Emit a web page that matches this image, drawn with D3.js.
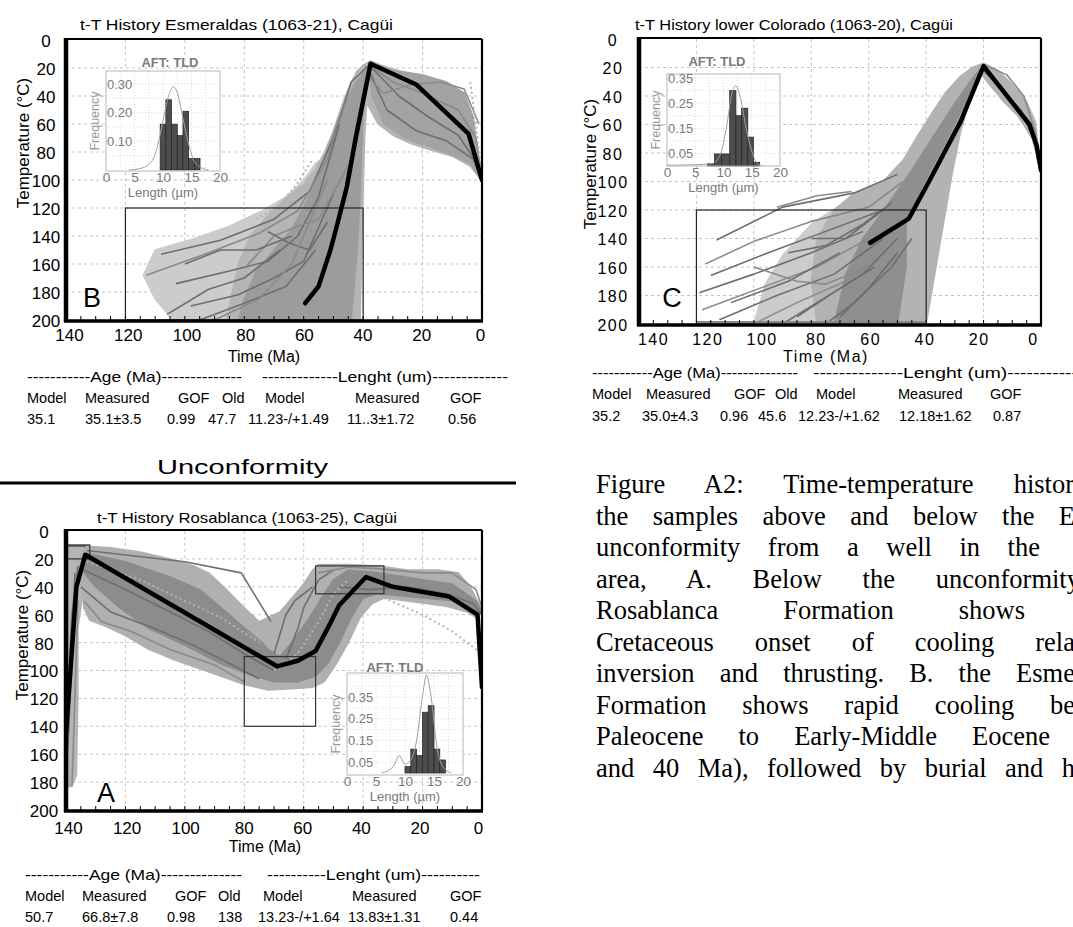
<!DOCTYPE html>
<html><head><meta charset="utf-8">
<script src="https://cdn.jsdelivr.net/npm/d3@7"></script>
<style>body{margin:0;background:#fff}svg{display:block}</style>
</head><body>
<svg id="fig" width="1073" height="927"></svg>
<script>
// ================= DATA =================
const timeTicks = [140,120,100,80,60,40,20,0];
const tempTicks = [0,20,40,60,80,100,120,140,160,180,200];
const histLenTicks = [0,5,10,15,20];

// ---- Panel B : Esmeraldas (1063-21) ----
const titleB = "t-T History Esmeraldas (1063-21), Cagüi";
const bestB = [[59.5,188],[55,176],[51,150],[48.5,130],[45.5,105],[42.5,70],[37.5,17],[22,32],[4.5,67],[0,100]];
const outerB = [[110,150],[97,142],[85,133],[74,122],[66,112],[60,100],[56,88],[50,80],[45,120],[44,200],[104,200],[110,185],[114,168]];
const envB = [[41,200],[40.5,150],[40,110],[39.5,70],[38.8,45],[35,60],[30,68],[24,74],[18,78],[10,83],[4,90],[0,101],[1.5,80],[3,55],[6,38],[12,30],[20,25],[28,22],[34,18],[37.5,15],[40,18],[42,22],[44,30],[46,40],[48,52],[50,65],[53,80],[56,92],[60,103],[66,113],[72,125],[78,140],[82,160],[84,180],[86,200]];
const coreB = [[44,200],[42,150],[41,110],[40.5,80],[40,50],[39,30],[38,20],[40,24],[43,32],[46,45],[49,60],[52,78],[55,95],[59,115],[64,135],[70,150],[76,165],[80,185],[82,200]];
const rightB = [[38,16],[30,22],[20,25],[12,30],[6,38],[3,55],[1.5,80],[0,100],[4,88],[10,82],[18,76],[26,70],[33,60],[37,40]];
const pathsB = [
  [[108,153],[88,143],[70,128],[58,108],[50,70],[44,30],[38,18]],
  [[113,168],[92,152],[75,138],[62,122],[52,85],[46,45]],
  [[103,174],[85,165],[72,158],[62,140],[55,112],[48,60]],
  [[98,190],[82,182],[70,170],[60,158],[50,110]],
  [[79,161],[70,140],[62,133],[55,128],[45,90]],
  [[95,200],[80,188],[66,176],[56,150]],
  [[72,137],[65,145],[58,150],[52,130]],
  [[90,200],[75,185],[64,160],[58,130],[52,100]],
  [[106,196],[92,178],[80,170],[68,150]],
  [[100,160],[88,150],[76,150],[64,140]],
  [[38,18],[30,30],[20,38],[8,50],[2,70],[0,100]],
  [[37,20],[28,40],[18,55],[8,68],[1,90]],
  [[38,22],[32,50],[22,65],[12,72],[3,85],[0,100]],
  [[39,25],[33,38],[24,32],[14,30],[6,35],[1,60]]
];
const dotsB = [[[76,128],[68,118],[62,102],[57,85]],[[4,30],[2,60],[0,100]]];
const boxesB = [[120,40,120,200]];
const binsB = [9.5,10.5,11.5,12.5,13.5,14.5,15.5,16.5];
const freqB = [0.16,0.245,0.16,0.12,0.205,0.04,0.04];
const curveB = [[4,0],[6,0.005],[8,0.03],[9,0.08],[10,0.17],[11,0.26],[11.8,0.29],[12.5,0.27],[13.5,0.18],[14.5,0.09],[15.5,0.03],[17,0.005],[18,0]];
const histYTicksB = [0.10,0.20,0.30];
const tableB = [
  ["-----------Age  (Ma)--------------","-------------Lenght (um)-------------"],
  ["Model","Measured","GOF","Old","Model","Measured","GOF"],
  ["35.1","35.1±3.5","0.99","47.7","11.23-/+1.49","11..3±1.72","0.56"]
];

// ---- Panel C : lower Colorado (1063-20) ----
const titleC = "t-T History lower Colorado (1063-20), Cagüi";
const bestC = [[59.5,143],[46,126],[39,100],[28,58],[20,19],[4,60],[1.5,75],[0,92]];
const outerC = [[100,200],[96,172],[90,152],[80,130],[68,114],[56,104],[50,200]];
const envC = [[40,200],[37,165],[34,130],[31,95],[28,65],[25,45],[22,30],[21,24],[18,32],[13,44],[8,54],[3,70],[0,95],[1,75],[2,58],[5,44],[10,32],[15,22],[20,17],[24,20],[28,26],[33,37],[38,52],[43,68],[48,85],[55,100],[65,108],[72,120],[78,140],[80,170],[78,200]];
const coreC = [[72,200],[68,165],[62,140],[54,118],[46,95],[38,70],[30,45],[24,28],[20,18],[22,25],[30,60],[41,102],[47,128],[47,160],[50,200]];
const pathsC = [
  [[113,141],[90,118],[65,108],[50,95]],
  [[117,158],[100,142],[80,128],[60,118],[48,100]],
  [[115,166],[95,150],[75,135],[55,120]],
  [[119,178],[100,165],[80,150],[62,135]],
  [[118,190],[98,175],[78,160],[60,140]],
  [[112,197],[92,180],[72,165],[55,140]],
  [[108,185],[88,170],[70,150]],
  [[100,200],[85,185],[68,170],[55,150]],
  [[90,200],[78,185],[62,165],[50,140]],
  [[85,195],[70,175],[58,160]],
  [[100,160],[85,170],[75,172],[60,160]],
  [[88,150],[75,145],[62,130],[52,115]],
  [[80,140],[68,140],[55,120]],
  [[92,118],[78,110],[66,107]],
  [[75,200],[65,185],[52,160],[45,140]],
  [[70,195],[60,175],[50,150]],
  [[20,18],[12,25],[6,40],[2,65],[0,90]],
  [[21,20],[14,35],[7,50],[2,72]]
];
const dotsC = [[[2,70],[0,95]]];
const boxesC = [[120,40,120,200]];
const binsC = [7.2,8.4,9.7,11.1,12.2,13.2,14.3,15.3,16.4];
const freqC = [0.01,0.048,0.048,0.30,0.20,0.23,0.115,0.015];
const curveC = [[0,0.003],[5,0.005],[8,0.01],[9.5,0.05],[10.5,0.15],[11.5,0.29],[12.2,0.32],[13,0.27],[14,0.15],[15,0.06],[16,0.01],[17,0]];
const histYTicksC = [0.05,0.15,0.25,0.35];
const tableC = [
  ["-----------Age  (Ma)--------------","--------------Lenght (um)-----------"],
  ["Model","Measured","GOF","Old","Model","Measured","GOF"],
  ["35.2","35.0±4.3","0.96","45.6","12.23-/+1.62","12.18±1.62","0.87"]
];

// ---- Panel A : Rosablanca (1063-25) ----
const titleA = "t-T History Rosablanca (1063-25), Cagüi";
const bestA = [[140,145],[138.5,100],[136.5,40],[133.5,17],[69,97],[62,93],[56,86],[52,70],[48,53],[39,33],[30,40],[11,47],[1.5,60],[0,112]];
const envA = [[133,11],[125,12],[115,15],[105,20],[97,25],[92,30],[86,42],[80,55],[75,65],[72,62],[68,58],[64,48],[60,38],[57,28],[55,24],[45,24],[35,25],[25,28],[15,28],[8,30],[4,40],[1,52],[0,58],[2,62],[5,58],[12,54],[22,51],[33,48],[37,52],[41,62],[45,80],[49,95],[53,108],[57,112],[64,113],[72,114],[80,110],[88,104],[96,98],[104,92],[112,85],[120,75],[127,68],[132,64],[134,55],[135,35],[136,20]];
const leftA = [[141,12],[134,12],[134,40],[136,70],[136,120],[136.5,175],[138,183],[141,184]];
const coreA = [[133,16],[120,22],[105,33],[95,42],[85,60],[78,75],[72,85],[68,90],[64,80],[58,62],[54,48],[50,35],[45,28],[35,30],[20,35],[10,38],[2,50],[0,58],[3,58],[10,50],[25,47],[35,45],[40,48],[44,62],[48,80],[52,95],[56,104],[62,108],[70,108],[78,103],[88,95],[100,82],[112,70],[122,55],[130,40],[134,30]];
const pathsA = [
  [[133,14],[100,22],[81,30],[71,65]],
  [[132,18],[112,30],[96,45],[84,62],[74,80],[68,95]],
  [[134,28],[120,42],[105,58],[92,72],[80,88],[70,100]],
  [[135,40],[125,58],[110,70],[97,82],[85,95],[75,106]],
  [[134,50],[128,65],[118,72],[105,85],[90,96],[80,108]],
  [[70,88],[66,60],[63,50],[57,40]],
  [[66,92],[62,70],[60,55],[55,35],[50,28]],
  [[55,30],[45,26],[35,27],[20,30],[10,30],[2,42],[0,55]],
  [[48,40],[38,42],[25,40],[12,45],[3,52],[0,60]],
  [[141,180],[140,150],[138,60],[136,25]],
  [[138,183],[137,120],[136,50]],
  [[140,175],[139,140],[137,30]]
];
const dotsA = [[[133,22],[115,35],[100,50],[88,62],[75,80]],[[70,100],[62,88],[55,65],[50,45],[45,35]],[[33,48],[20,60],[10,72],[0,88]]];
const boxesA = [[140,132,10,20],[80,56,90,140],[56,33,25,45]];
const binsA = [10,11,12,13,14,15,16,17];
const freqA = [0.03,0.11,0.08,0.28,0.31,0.11,0.06];
const curveA = [[6,0],[8,0.03],[9,0.08],[10,0.04],[11,0.06],[12,0.15],[13,0.35],[13.7,0.45],[14.5,0.35],[15.5,0.12],[16.5,0.03],[18,0]];
const histYTicksA = [0.05,0.15,0.25,0.35];
const tableA = [
  ["-----------Age  (Ma)--------------","----------Lenght (um)----------"],
  ["Model","Measured","GOF","Old","Model","Measured","GOF"],
  ["50.7","66.8±7.8","0.98","138","13.23-/+1.64","13.83±1.31","0.44"]
];

const unconformityLabel = "Unconformity";
const captionLines = [
  "Figure A2: Time-temperature histor",
  "the samples above and below the E",
  "unconformity from a well in the",
  "area, A. Below the unconformity",
  "Rosablanca Formation shows",
  "Cretaceous onset of cooling rela",
  "inversion and thrusting. B. the Esme",
  "Formation shows rapid cooling be",
  "Paleocene to Early-Middle Eocene",
  "and 40 Ma), followed by burial and h"
];

// ================= DRAWING =================
const svg = d3.select('#fig');
svg.append('rect').attr('width',1073).attr('height',927).attr('fill','#fff');
const SANS = "'Liberation Sans', Arial, sans-serif";

function drawPanel(p){
  const x = d3.scaleLinear().domain([140,0]).range([p.xl,p.xr]);
  const y = d3.scaleLinear().domain([0,200]).range([p.yt,p.yb]);
  const xLab = d3.scaleLinear().domain([140,0]).range(p.xLabRange || [p.xl,p.xr]);
  const g = svg.append('g');
  const cid = 'clip'+p.id;
  svg.append('defs').append('clipPath').attr('id',cid).append('rect')
    .attr('x',p.xl).attr('y',p.yt-1).attr('width',p.xr-p.xl).attr('height',p.yb-p.yt+1);
  const grid = g.append('g').attr('stroke','#c4c4c4').attr('stroke-width',1).attr('stroke-dasharray','3,3');
  timeTicks.slice(1,-1).forEach(t=>grid.append('line').attr('x1',x(t)).attr('x2',x(t)).attr('y1',p.yt).attr('y2',p.yb));
  tempTicks.slice(1,-1).forEach(t=>grid.append('line').attr('x1',p.xl).attr('x2',p.xr).attr('y1',y(t)).attr('y2',y(t)));
  const pl = d3.line().x(d=>x(d[0])).y(d=>y(d[1]));
  const body = g.append('g').attr('clip-path',`url(#${cid})`);
  p.boxes.forEach((b,i)=>{
    if(p.boxFill && p.boxFill[i]) body.append('rect').attr('x',x(b[0])).attr('y',y(b[2]))
      .attr('width',x(b[1])-x(b[0])).attr('height',y(b[3])-y(b[2])).attr('fill',p.boxFill[i]);
  });
  p.polys.forEach(pp=>body.append('path').attr('d',pl(pp.pts)+'Z').attr('fill',pp.fill).attr('stroke',pp.fill).attr('stroke-width',1.5).attr('stroke-linejoin','round'));
  p.paths.forEach((pt,i)=>body.append('path').attr('d',pl(pt)).attr('fill','none')
    .attr('stroke', i%3===1 ? '#8a8a8a' : '#6e6e6e').attr('stroke-width',1.6).attr('stroke-linejoin','round'));
  p.dots.forEach(pt=>body.append('path').attr('d',pl(pt)).attr('fill','none').attr('stroke','#b4b4b4').attr('stroke-width',2).attr('stroke-dasharray','2,3'));
  p.boxes.forEach((b,i)=>body.append('rect').attr('x',x(b[0])).attr('y',y(b[2]))
      .attr('width',x(b[1])-x(b[0])).attr('height',y(b[3])-y(b[2])).attr('fill','none')
      .attr('stroke', p.boxStroke||'#222').attr('stroke-width',1.2));
  if(p.boxBottom) body.append('line').attr('x1',x(120)).attr('x2',x(40)).attr('y1',y(199)).attr('y2',y(199)).attr('stroke','#888').attr('stroke-width',3);
  body.append('path').attr('d',pl(p.best)).attr('fill','none').attr('stroke','#000').attr('stroke-width',4.5).attr('stroke-linejoin','round').attr('stroke-linecap','round');
  const mt = g.append('g').attr('stroke','#000').attr('stroke-width',1);
  d3.range(0,141,5).forEach(t=>mt.append('line').attr('x1',x(t)).attr('x2',x(t)).attr('y1',p.yb).attr('y2',p.yb-4));
  g.append('line').attr('x1',p.xl).attr('x2',p.xr).attr('y1',p.yt-1).attr('y2',p.yt-1).attr('stroke','#000').attr('stroke-width',2.2);
  g.append('line').attr('x1',p.xr).attr('x2',p.xr).attr('y1',p.yt-1).attr('y2',p.yb+1).attr('stroke','#000').attr('stroke-width',2.2);
  g.append('line').attr('x1',p.xl).attr('x2',p.xl).attr('y1',p.yt-2).attr('y2',p.yb+2).attr('stroke','#000').attr('stroke-width',4.5);
  g.append('line').attr('x1',p.xl-2).attr('x2',p.xr+1).attr('y1',p.yb+1).attr('y2',p.yb+1).attr('stroke','#000').attr('stroke-width',3.5);
  const ax = g.append('g').attr('transform',`translate(0,${p.xLabY})`)
    .call(d3.axisBottom(xLab).tickValues(timeTicks).tickSize(0).tickPadding(0));
  ax.select('.domain').remove();
  ax.selectAll('text').attr('dy','0.35em').attr('font-family',SANS).attr('font-size',p.tickFs).attr('fill','#000')
    .attr('letter-spacing',p.ls||0);
  const ay = g.append('g').attr('transform',`translate(${p.yLabX},${p.yLabDy||0})`)
    .call(d3.axisLeft(y).tickValues(tempTicks).tickSize(0).tickPadding(0));
  ay.select('.domain').remove();
  ay.selectAll('text').attr('text-anchor','middle').attr('x',0).attr('dy','0.38em').attr('font-family',SANS)
    .attr('font-size',p.tickFs).attr('fill','#000').attr('letter-spacing',p.ls||0);
  g.append('text').attr('x',p.title[1]).attr('y',p.title[2]).text(p.title[0]).attr('font-family',SANS)
    .attr('font-size',15).attr('textLength',p.title[3]).attr('lengthAdjust','spacingAndGlyphs');
  g.append('text').attr('x',p.timeLab[0]).attr('y',p.timeLab[1]).attr('text-anchor','middle').text('Time (Ma)')
    .attr('font-family',SANS).attr('font-size',16).attr('letter-spacing',p.ls||0);
  g.append('text').attr('transform',`translate(${p.tempLab[0]},${p.tempLab[1]}) rotate(-90)`).attr('text-anchor','middle')
    .text('Temperature (°C)').attr('font-family',SANS).attr('font-size',17).attr('dy','0.35em');
  g.append('text').attr('x',p.letter[1]).attr('y',p.letter[2]).text(p.letter[0]).attr('font-family',SANS).attr('font-size',27).attr('text-anchor','middle');
  drawInset(p.inset);
  const t = p.table, tb = p.tableLayout;
  t[0].forEach((s,i)=>g.append('text').attr('x',tb.hx[i]).attr('y',tb.y[0]).text(s).attr('font-family',SANS).attr('font-size',14.5)
     .attr('textLength',tb.hw[i]).attr('lengthAdjust','spacingAndGlyphs'));
  [1,2].forEach(r=>t[r].forEach((s,i)=>g.append('text').attr('x',tb.cols[r-1][i]).attr('y',tb.y[r]).text(s)
     .attr('font-family',SANS).attr('font-size',14.5)));
}

function drawInset(s){
  const g = svg.append('g');
  const x = d3.scaleLinear().domain([0,20]).range([s.xl,s.xr]);
  const y = d3.scaleLinear().domain([0,s.ref]).range([s.y0,s.yref]);
  g.append('rect').attr('x',s.xl).attr('y',s.yt).attr('width',s.xr-s.xl).attr('height',s.yb-s.yt).attr('fill','#fff');
  const gg = g.append('g').attr('stroke','#d2d2d2').attr('stroke-width',0.8).attr('stroke-dasharray','1,2');
  d3.range(2.5,20,2.5).forEach(v=>gg.append('line').attr('x1',x(v)).attr('x2',x(v)).attr('y1',s.yt).attr('y2',s.yb));
  s.gridY.forEach(v=>{ if(y(v)>s.yt+1 && y(v)<s.yb-1) gg.append('line').attr('x1',s.xl).attr('x2',s.xr).attr('y1',y(v)).attr('y2',y(v)); });
  s.freq.forEach((f,i)=>g.append('rect').attr('x',x(s.bins[i])).attr('y',y(f)).attr('width',x(s.bins[i+1])-x(s.bins[i]))
    .attr('height',s.y0-y(f)).attr('fill','#4d4d4d').attr('stroke','#222').attr('stroke-width',0.7));
  const cid='iclip'+s.id;
  svg.append('defs').append('clipPath').attr('id',cid).append('rect').attr('x',s.xl).attr('y',s.yt).attr('width',s.xr-s.xl).attr('height',s.yb-s.yt);
  g.append('path').attr('clip-path',`url(#${cid})`).attr('d',d3.line().curve(d3.curveMonotoneX).x(d=>x(d[0])).y(d=>y(d[1]))(s.curve))
    .attr('fill','none').attr('stroke','#a0a0a0').attr('stroke-width',1);
  g.append('rect').attr('x',s.xl).attr('y',s.yt).attr('width',s.xr-s.xl).attr('height',s.yb-s.yt).attr('fill','none').attr('stroke','#b8b8b8').attr('stroke-width',1);
  const tc='#7a7a7a';
  s.yTicks.forEach(v=>g.append('text').attr('x',s.xl+1).attr('y',y(v)).attr('dy','0.35em').text(v.toFixed(2))
    .attr('font-family',SANS).attr('font-size',13).attr('fill',tc));
  const ax = g.append('g').attr('transform',`translate(0,${s.yb+7})`).call(d3.axisBottom(x).tickValues(histLenTicks).tickSize(0).tickPadding(0));
  ax.select('.domain').remove();
  ax.selectAll('text').attr('dy','0.3em').attr('font-family',SANS).attr('font-size',13.5).attr('fill',tc);
  g.append('text').attr('x',(s.xl+s.xr)/2).attr('y',s.yb+21).attr('dy','0.35em').attr('text-anchor','middle').text('Length (µm)')
    .attr('font-family',SANS).attr('font-size',13).attr('fill',tc);
  g.append('text').attr('transform',`translate(${s.xl-7},${(s.yt+s.yb)/2}) rotate(-90)`).attr('text-anchor','middle').text('Frequency')
    .attr('font-family',SANS).attr('font-size',12.5).attr('fill','#999');
  g.append('text').attr('x',s.tx).attr('y',s.ty).attr('text-anchor','middle').text('AFT: TLD')
    .attr('font-family',SANS).attr('font-size',13).attr('font-weight','bold').attr('fill',tc);
}

drawPanel({id:'B', xl:66, xr:482, yt:40, yb:320, xLabY:335, xLabRange:[69,480], yLabX:46, tickFs:17,
  title:[titleB,80,30,313], timeLab:[264,362], tempLab:[23,143], letter:['B',92,307],
  best:bestB, paths:pathsB, dots:dotsB, boxes:boxesB,
  polys:[{pts:outerB,fill:'#cccccc'},{pts:envB,fill:'#b5b5b5'},{pts:coreB,fill:'#9c9c9c'},{pts:rightB,fill:'#a3a3a3'}],
  inset:{id:'B',xl:106,xr:220,yt:71,yb:171,y0:170,ref:0.3,yref:84,bins:binsB,freq:freqB,curve:curveB,yTicks:histYTicksB,gridY:d3.range(0.05,0.35,0.05),tx:170,ty:67},
  table:tableB, tableLayout:{y:[382,403,424], hx:[27,262], hw:[215,246],
    cols:[[27,85,178,222,265,355,450],[27,85,167,208,248,347,448]]}
});
drawPanel({id:'C', xl:639, xr:1041, yt:39, yb:324, xLabY:339, xLabRange:[653,1033], yLabX:613, tickFs:16, ls:1.5,
  title:[titleC,635,30,318], timeLab:[826,362], tempLab:[590,164], letter:['C',672,307], boxBottom:true,
  best:bestC, paths:pathsC, dots:dotsC, boxes:boxesC,
  polys:[{pts:outerC,fill:'#cccccc'},{pts:envC,fill:'#b3b3b3'},{pts:coreC,fill:'#8f8f8f'}],
  inset:{id:'C',xl:667,xr:780,yt:74,yb:166,y0:166,ref:0.35,yref:78,bins:binsC,freq:freqC,curve:curveC,yTicks:histYTicksC,gridY:d3.range(0.05,0.4,0.05),tx:717,ty:66},
  table:tableC, tableLayout:{y:[378,399,421], hx:[592,813], hw:[206,265],
    cols:[[592,646,734,775,816,898,990],[592,642,720,758,798,899,993]]}
});
drawPanel({id:'A', xl:66, xr:482, yt:531, yb:810, xLabY:828, xLabRange:[68,478], yLabX:44, tickFs:17,
  title:[titleA,97,523,300], timeLab:[265,852], tempLab:[22,635], letter:['A',106,802],
  best:bestA, paths:pathsA, dots:dotsA, boxes:boxesA, boxFill:['#6a6a6a',null,'#7c7c7c'], boxStroke:'#333',
  polys:[{pts:leftA,fill:'#b5b5b5'},{pts:envA,fill:'#b0b0b0'},{pts:coreA,fill:'#8c8c8c'}],
  inset:{id:'A',xl:347,xr:463,yt:673,yb:775,y0:773,ref:0.35,yref:697,bins:binsA,freq:freqA,curve:curveA,yTicks:histYTicksA,gridY:d3.range(0.05,0.5,0.05),tx:395,ty:672},
  table:tableA, tableLayout:{y:[880,901,922], hx:[25,267], hw:[217,213],
    cols:[[25,82,175,218,263,352,450],[25,82,167,218,258,348,450]]}
});

svg.append('text').attr('x',157).attr('y',474).text(unconformityLabel).attr('font-family',SANS).attr('font-size',21)
  .attr('textLength',171).attr('lengthAdjust','spacingAndGlyphs');
svg.append('line').attr('x1',0).attr('x2',516).attr('y1',483).attr('y2',483).attr('stroke','#000').attr('stroke-width',3);

const capEnds = [1074,1075,1040,1080,1025,1075,1075,1075,1050,1075];
const capY = d3.range(10).map(i=>493+i*31.55);
captionLines.forEach((s,i)=>{
  const t = svg.append('text').attr('x',596).attr('y',capY[i]).text(s)
    .attr('font-family',"'Liberation Serif','Times New Roman',serif").attr('font-size',26.5);
  const w = t.node().getComputedTextLength();
  const n = (s.match(/ /g)||[]).length;
  if(n>0) t.attr('word-spacing', Math.max(0,(capEnds[i]-596-w)/n));
});
</script>
</body></html>
